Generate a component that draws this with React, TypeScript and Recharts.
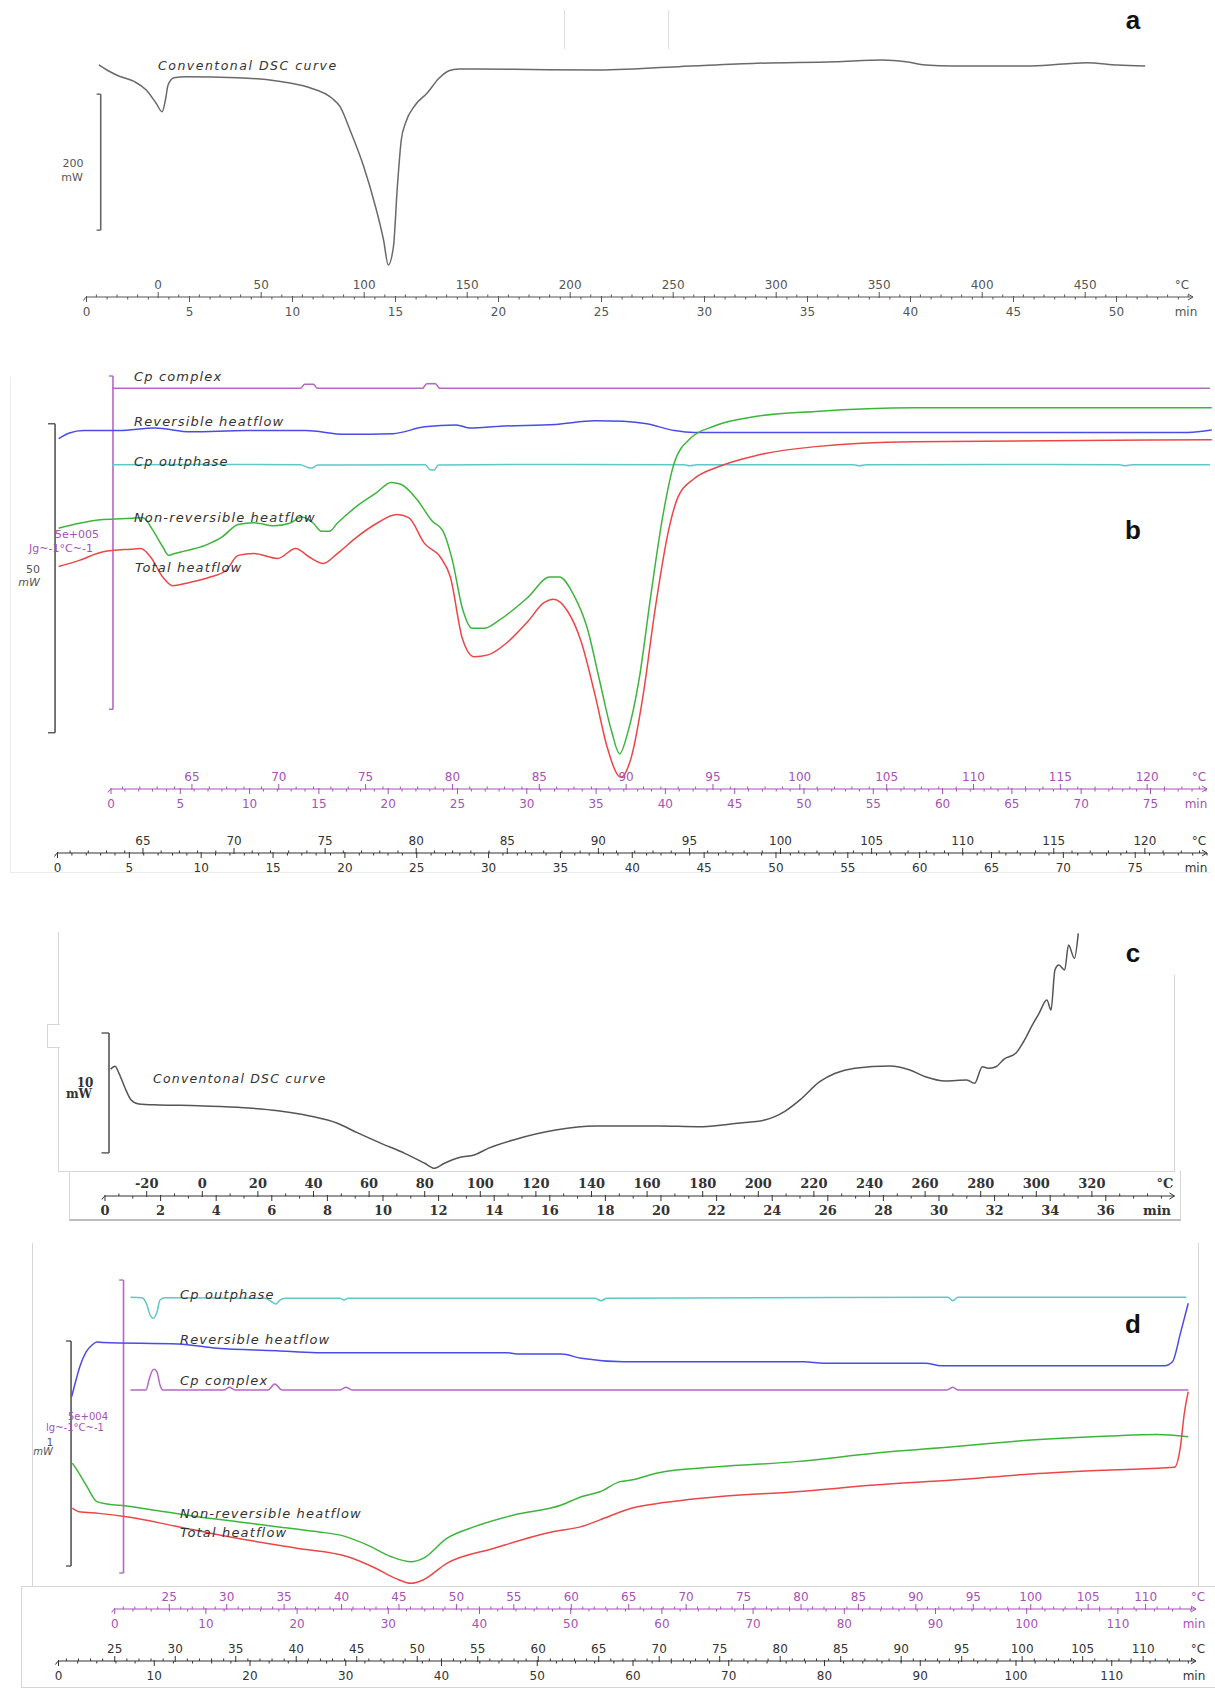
import React from "react";
import { LineChart, Line, XAxis, YAxis, ReferenceLine } from "recharts";

type Pt = { t: number; v: number };
const pts = (rows: number[][]): Pt[] => rows.map(([t, v]) => ({ t, v }));
const range = (a: number, b: number, s = 1) => {
  const out: number[] = [];
  for (let v = a; v <= b + 1e-9; v += s) out.push(+v.toFixed(3));
  return out;
};

const W = 1215;
const SANS = "'DejaVu Sans', Verdana, sans-serif";
const SERIF = "'DejaVu Serif', 'Liberation Serif', serif";
const PURPLE = "#b468c4";
const PURPLE_TXT = "#a552b5";
const BLUE = "#4b4be6";
const CYAN = "#5ec8c8";
const GREEN = "#3db53d";
const RED = "#ec4646";

// ---------- a: conventional DSC (t in min, v in mW)
const A_MIN_LABELS = [0, 5, 10, 15, 20, 25, 30, 35, 40, 45, 50];
const A_C_LABELS = [0, 50, 100, 150, 200, 250, 300, 350, 400, 450];
const A_DSC = pts([
  [0.6, 5.9], [0.99, -1.5], [1.56, -10.3], [2.33, -18.7], [2.9, -30.9], [3.38, -50.4],
  [3.67, -62.8], [3.83, -45.6], [3.96, -23.5], [4.25, -12.8], [4.82, -11.3], [7.32, -12.8],
  [9.24, -17.6], [10.77, -26.9], [11.92, -43.1], [12.31, -55.4], [12.79, -89.7], [13.46, -143.7],
  [14.03, -202.5], [14.42, -251.5], [14.65, -288.2], [14.9, -261.3], [15.09, -173.1], [15.28, -104.4],
  [15.48, -79.9], [15.96, -52.9], [16.53, -35.7], [17.11, -13.7], [17.59, -2.5], [18.07, 0],
  [20.75, -0.4], [24.59, -1.5], [28.73, 3.4], [32.54, 8.4], [36.35, 10.7], [38.64, 13.2],
  [39.78, 10.7], [40.73, 5.9], [42.06, 4.4], [45.87, 4.4], [48.53, 9.3], [50.05, 5.9], [51.39, 4.4],
]);

// ---------- b: MTDSC, heat flows in mW, Cp in 1e5 J g-1 °C-1
const B_MIN_LABELS = [0, 5, 10, 15, 20, 25, 30, 35, 40, 45, 50, 55, 60, 65, 70, 75];
const B_C_LABELS = [65, 70, 75, 80, 85, 90, 95, 100, 105, 110, 115, 120];
const B_CP_COMPLEX = pts([
  [3.8, 5.98], [16.9, 5.98], [17.2, 6.04], [17.8, 6.04], [18.1, 5.98], [25.4, 5.98],
  [25.7, 6.05], [26.3, 6.05], [26.6, 5.98], [80.2, 5.98],
]);
const B_CP_OUT = pts([
  [3.8, 4.84], [10, 4.845], [16.9, 4.84], [17.4, 4.8], [17.7, 4.79], [18.1, 4.835], [25.6, 4.84],
  [25.9, 4.77], [26.2, 4.76], [26.5, 4.835], [35, 4.845], [43.6, 4.84], [44, 4.825], [44.5, 4.84],
  [55.4, 4.84], [55.8, 4.825], [56.3, 4.84], [66, 4.845], [73.9, 4.84], [74.3, 4.825], [74.8, 4.84], [80.2, 4.84],
]);
const B_REV = pts([
  [0.08, 56.7], [0.83, 57.6], [1.8, 58.0], [4.28, 58.0], [6.77, 58.4], [9.26, 57.8], [13.12, 58.0],
  [17.27, 58.0], [20.0, 57.4], [23.34, 57.5], [25.55, 58.6], [27.75, 58.9], [28.72, 58.4], [30.8, 58.7],
  [34.66, 59.0], [37.42, 59.6], [39.39, 59.5], [41.02, 59.1], [42.94, 58.0], [44.29, 57.7], [59.58, 57.7],
  [78.67, 57.7], [80.33, 58.1],
]);
const B_NONREV = pts([
  [0.08, 42.2], [1.52, 43.0], [3.18, 43.6], [5.11, 43.8], [5.94, 43.9], [6.63, 41.9], [7.32, 39.2],
  [7.74, 37.8], [8.15, 38.1], [10.36, 39.5], [11.46, 40.8], [12.57, 42.8], [13.67, 43.1], [15.05, 42.6],
  [16.16, 43.0], [16.99, 44.0], [17.81, 43.0], [18.36, 41.7], [18.92, 41.7], [19.47, 43.0], [20.85, 45.8],
  [22.23, 48.0], [23.2, 49.6], [23.89, 49.3], [25.0, 46.9], [26.1, 43.3], [26.79, 41.9], [27.48, 37.0],
  [28.17, 29.3], [28.86, 26.0], [29.69, 26.0], [30.79, 27.4], [32.73, 31.0], [34.24, 34.3], [34.93, 34.3],
  [35.9, 31.5], [36.87, 26.0], [37.7, 17.8], [38.53, 9.6], [39.12, 5.7], [39.67, 9.0], [40.48, 17.8],
  [41.3, 31.5], [42.12, 44.1], [42.94, 52.9], [44.03, 56.7], [45.67, 58.7], [48.67, 60.3], [52.76, 61.1],
  [59.58, 61.7], [80.33, 61.7],
]);
const B_TOTAL = pts([
  [0.08, 36.0], [1.52, 37.0], [3.18, 38.4], [5.11, 38.8], [5.8, 38.9], [6.49, 37.5], [7.32, 34.3],
  [8.01, 32.9], [8.98, 33.3], [10.63, 34.3], [11.74, 35.4], [12.57, 37.8], [13.67, 38.1], [15.33, 37.3],
  [16.57, 38.9], [17.54, 37.5], [18.5, 36.5], [19.47, 38.1], [20.85, 40.8], [22.23, 43.0], [23.61, 44.4],
  [24.44, 43.9], [25.55, 39.7], [26.65, 37.5], [27.34, 34.3], [28.17, 24.4], [29.0, 21.4], [29.96, 21.7],
  [31.34, 23.8], [32.73, 27.1], [33.83, 30.1], [34.52, 30.7], [35.49, 28.8], [36.45, 23.8], [37.42, 15.1],
  [38.25, 6.8], [39.2, 1.9], [39.94, 5.2], [40.75, 15.1], [41.57, 28.8], [42.53, 41.9], [43.21, 47.4],
  [44.3, 50.2], [45.94, 52.1], [48.67, 54.0], [52.76, 55.4], [59.58, 56.2], [80.33, 56.5],
]);

// ---------- c: conventional DSC (t in min, v in mW)
const C_MIN_LABELS = range(0, 36, 2);
const C_C_LABELS = range(-20, 320, 20);
const C_DSC = pts([
  [0.2, 8.6], [0.36, 8.85], [0.5, 8.28], [0.72, 7.03], [0.94, 6.03], [1.22, 5.69], [1.93, 5.61],
  [3.36, 5.55], [4.78, 5.41], [6.22, 5.13], [7.36, 4.69], [8.36, 4.08], [9.07, 3.29], [9.93, 2.4],
  [10.78, 1.56], [11.5, 0.73], [11.85, 0.31], [12.21, 0.73], [12.78, 1.23], [13.28, 1.42], [13.78, 1.98],
  [14.78, 2.74], [16.21, 3.51], [17.63, 3.85], [19.92, 3.85], [21.33, 3.79], [22.74, 4.08], [23.73, 4.35],
  [24.44, 5.05], [25.0, 6.03], [25.71, 7.56], [26.27, 8.26], [26.97, 8.68], [28.24, 8.87], [28.95, 8.54],
  [29.51, 7.97], [30.22, 7.62], [31.0, 7.7], [31.28, 7.42], [31.56, 8.81], [31.77, 8.68], [32.05, 8.81],
  [32.33, 9.43], [32.76, 9.93], [33.04, 10.9], [33.39, 12.44], [33.6, 13.28], [33.88, 14.39], [34.03, 13.56],
  [34.17, 16.9], [34.31, 17.32], [34.52, 16.9], [34.66, 19.0], [34.87, 17.88], [35.01, 19.97],
]);

// ---------- d: MTDSC, heat flows in mW, Cp in 1e4 J g-1 °C-1
const D_MIN_LABELS = range(0, 110, 10);
const D_C_LABELS = range(25, 110, 5);
const D_CP_OUT = pts([
  [7.52, 5.319], [8.72, 5.312], [9.24, 5.188], [9.56, 5.017], [9.9, 4.961], [10.29, 5.068], [10.6, 5.273],
  [11.12, 5.312], [21.57, 5.302], [22.3, 5.239], [22.72, 5.205], [23.13, 5.273], [23.66, 5.302], [29.4, 5.302],
  [29.82, 5.273], [30.23, 5.302], [56.03, 5.302], [56.66, 5.261], [57.28, 5.302], [92.9, 5.319], [93.41, 5.261],
  [93.94, 5.319], [117.79, 5.319],
]);
const D_CP_COMPLEX = pts([
  [7.52, 3.737], [9.14, 3.737], [9.45, 3.908], [9.77, 4.061], [9.99, 4.09], [10.29, 4.044], [10.6, 3.823],
  [10.91, 3.737], [17.28, 3.737], [17.84, 3.783], [18.43, 3.737], [21.88, 3.737], [22.59, 3.84], [23.34, 3.737],
  [29.4, 3.737], [30.03, 3.783], [30.65, 3.737], [92.79, 3.737], [93.41, 3.783], [93.94, 3.737], [117.99, 3.737],
]);
const D_REV = pts([
  [1.38, 0.944], [1.83, 1.018], [2.25, 1.08], [2.87, 1.142], [3.5, 1.173], [4.02, 1.187], [4.65, 1.184],
  [12.48, 1.178], [16.61, 1.159], [22.8, 1.148], [26.92, 1.139], [46.75, 1.139], [48.2, 1.133], [52.53, 1.133],
  [54.6, 1.114], [59.01, 1.099], [77.85, 1.099], [79.9, 1.092], [90.55, 1.092], [92.19, 1.081], [115.53, 1.081],
  [116.34, 1.099], [117.17, 1.225], [117.99, 1.359],
]);
const D_NONREV = pts([
  [1.45, 0.648], [2.15, 0.603], [2.98, 0.544], [4.01, 0.477], [5.04, 0.467], [7.1, 0.458], [10.41, 0.437],
  [14.54, 0.41], [18.67, 0.388], [22.8, 0.366], [26.92, 0.344], [29.82, 0.324], [32.29, 0.284], [34.78, 0.232],
  [36.84, 0.21], [38.08, 0.225], [40.55, 0.314], [43.45, 0.366], [47.57, 0.418], [52.53, 0.462], [54.6, 0.499],
  [56.55, 0.521], [58.64, 0.566], [59.83, 0.573], [62.69, 0.606], [68.84, 0.632], [77.03, 0.655], [85.22, 0.692],
  [93.41, 0.721], [101.61, 0.751], [109.8, 0.769], [114.72, 0.776], [117.99, 0.766],
]);
const D_TOTAL = pts([
  [1.45, 0.448], [2.15, 0.432], [4.22, 0.425], [7.1, 0.41], [12.48, 0.366], [18.67, 0.314], [24.87, 0.27],
  [30.23, 0.232], [33.12, 0.181], [35.19, 0.136], [36.84, 0.114], [38.08, 0.129], [40.55, 0.203], [45.51, 0.27],
  [51.71, 0.344], [54.6, 0.366], [56.55, 0.396], [59.83, 0.448], [62.69, 0.47], [68.84, 0.499], [77.03, 0.521],
  [85.22, 0.551], [93.41, 0.573], [101.61, 0.6], [109.8, 0.618], [116.55, 0.63], [117.17, 0.721], [117.58, 0.87],
  [117.99, 0.966],
]);

// ---------- axis marks: every scale is placed on the panel's time axis
type Style = { color: string; font: string; size: number; weight?: any };
type Mark = { t: number; val: number; major: boolean; up: boolean; dy: number; st: Style; line?: number; end?: string; endX?: number };

function group(vals: number[], toT: (v: number) => number, labels: number[], up: boolean, dy: number, st: Style,
  line?: number, end?: string, endX?: number): Mark[] {
  return vals.map((v, i) => ({
    t: toT(v), val: v, major: labels.includes(v), up, dy, st,
    line: i === 0 ? line : undefined, end: i === 0 ? end : undefined, endX,
  }));
}

function axisFrom(marks: Mark[]) {
  const map = new Map<string, Mark>();
  marks.forEach((m) => map.set(m.t.toFixed(5), m));
  const ticks = Array.from(map.values()).map((m) => +m.t.toFixed(5)).sort((a, b) => a - b);
  const tick = (p: any) => {
    const m = map.get((+p.payload.value).toFixed(5));
    if (!m) return <g />;
    const x = p.x;
    const y = p.y + m.dy;
    const L = m.major ? 5 : 2.5;
    const ty = m.up ? y - 8 : y + 19;
    const txt = { fill: m.st.color, fontFamily: m.st.font, fontSize: m.st.size, fontWeight: m.st.weight };
    return (
      <g>
        {m.line ? (
          <path
            d={`M${x - 3},${y + 3.5} Q${x - 1},${y} ${x},${y} H${x + m.line} M${x + m.line - 5},${y - 3} L${x + m.line},${y} L${x + m.line - 5},${y + 3}`}
            stroke={m.st.color} strokeWidth={1} fill="none"
          />
        ) : null}
        <line x1={x} x2={x} y1={m.up ? y - L : y - (m.major ? 1 : 0)} y2={m.up ? y + (m.major ? 1 : 0) : y + L} stroke={m.st.color} strokeWidth={1} />
        {m.major ? <text x={x} y={ty} textAnchor="middle" {...txt}>{m.val}</text> : null}
        {m.end ? <text x={m.endX} y={ty} textAnchor="middle" {...txt}>{m.end}</text> : null}
      </g>
    );
  };
  return { ticks, tick };
}

const bare = { tickLine: false, axisLine: false, tickSize: 0, tickMargin: 0, allowDataOverflow: true, interval: 0 as const, type: "number" as const };

const scaleBar = (key: string, xId: string, yId: string, t: number, y1: number, y2: number, serif: number, color: string) => [
  <ReferenceLine key={key + "v"} xAxisId={xId} yAxisId={yId} segment={[{ x: t, y: y1 }, { x: t, y: y2 }]} stroke={color} strokeWidth={1.6} ifOverflow="visible" />,
  <ReferenceLine key={key + "a"} xAxisId={xId} yAxisId={yId} segment={[{ x: t - serif, y: y1 }, { x: t, y: y1 }]} stroke={color} strokeWidth={1.4} ifOverflow="visible" />,
  <ReferenceLine key={key + "b"} xAxisId={xId} yAxisId={yId} segment={[{ x: t - serif, y: y2 }, { x: t, y: y2 }]} stroke={color} strokeWidth={1.4} ifOverflow="visible" />,
];

function Txt({ x, y, mid, children, s }: { x: number; y: number; mid?: boolean; children: any; s?: React.CSSProperties }) {
  return (
    <div style={{ position: "absolute", left: x, top: y, transform: mid ? "translate(-50%,-50%)" : "translate(0,-50%)", whiteSpace: "nowrap", lineHeight: 1, ...s }}>
      {children}
    </div>
  );
}

function Box({ l, t, w, h, b }: { l: number; t: number; w: number; h: number; b: React.CSSProperties }) {
  return <div style={{ position: "absolute", left: l, top: t, width: w, height: h, boxSizing: "border-box", ...b }} />;
}

const ital: React.CSSProperties = { fontFamily: SANS, fontStyle: "italic", fontSize: 12.5, letterSpacing: 1.2, color: "#333" };
const italMt: React.CSSProperties = { ...ital, fontSize: 13, letterSpacing: 1.15 };
const panelLetter: React.CSSProperties = { fontFamily: "'Liberation Sans', Arial, sans-serif", fontWeight: 700, fontSize: 26, color: "#111" };
const line = (c: string) => ({ type: "monotone" as const, dot: false, stroke: c, strokeWidth: 1.5, isAnimationActive: false, dataKey: "v" });
const FR = "1.5px solid #d6d6d6";

function PanelA() {
  const st = { color: "#555", font: SANS, size: 12 };
  const ax = axisFrom([
    ...group(range(-30, 500, 10), (T) => 3.48 + T / 10, A_C_LABELS, true, 0, st, undefined, "°C", 1182),
    ...group(range(0, 53), (t) => t, A_MIN_LABELS, false, 0, st, 1106.5, "min", 1186),
  ]);
  return (
    <div style={{ position: "absolute", left: 0, top: 0 }}>
      <LineChart width={W} height={328} margin={{ top: 8, right: 15, bottom: 2, left: 60 }}>
        <XAxis xAxisId="t" {...bare} dataKey="t" height={29} domain={[-1.2864, 54.053]} ticks={ax.ticks} tick={ax.tick} />
        <YAxis yAxisId="v" hide type="number" domain={[-335.3, 89.7]} allowDataOverflow />
        {scaleBar("sa", "t", "v", 0.69, -37, -237, 0.2, "#666")}
        <ReferenceLine xAxisId="t" yAxisId="v" segment={[{ x: 23.21, y: 86.8 }, { x: 23.21, y: 29.4 }]} stroke="#dcdcdc" ifOverflow="visible" />
        <ReferenceLine xAxisId="t" yAxisId="v" segment={[{ x: 28.26, y: 86.8 }, { x: 28.26, y: 29.4 }]} stroke="#dcdcdc" ifOverflow="visible" />
        <Line xAxisId="t" yAxisId="v" data={A_DSC} {...line("#6a6a6a")} />
      </LineChart>
    </div>
  );
}

function PanelB() {
  const ps = { color: PURPLE_TXT, font: SANS, size: 12 };
  const bs = { color: "#333", font: SANS, size: 12 };
  // purple scale: x = 111 + 13.86 tp ; black scale: x = 57.5 + 14.37 t
  const pT = (tp: number) => (111 + 13.86 * tp - 57.5) / 14.37;
  const ax = axisFrom([
    ...group(range(61, 123), (T) => pT((T - 60.34) / 0.798), B_C_LABELS, true, 0, ps, undefined, "°C", 1199),
    ...group(range(0, 79), pT, B_MIN_LABELS, false, 0, ps, 1096, "min", 1196),
    ...group(range(61, 123), (T) => (T - 60.31) / 0.7888, B_C_LABELS, true, 64, bs, undefined, "°C", 1199),
    ...group(range(0, 80), (t) => t, B_MIN_LABELS, false, 64, bs, 1149.5, "min", 1196),
  ]);
  return (
    <div style={{ position: "absolute", left: 0, top: 360 }}>
      <LineChart width={W} height={524} margin={{ top: 0, right: 3, bottom: 2, left: 15 }}>
        <XAxis xAxisId="t" {...bare} dataKey="t" height={93} domain={[-2.958, 80.344]} ticks={ax.ticks} tick={ax.tick} />
        <YAxis yAxisId="mw" hide type="number" domain={[0, 69.417]} allowDataOverflow />
        <YAxis yAxisId="cp" hide type="number" domain={[0, 6.403]} allowDataOverflow />
        {scaleBar("sb", "t", "mw", -0.17, 59.1, 9.1, 0.49, "#555")}
        {scaleBar("pb", "t", "cp", 3.86, 6.164, 1.19, 0.28, PURPLE)}
        <Line xAxisId="t" yAxisId="cp" data={B_CP_COMPLEX} {...line(PURPLE)} />
        <Line xAxisId="t" yAxisId="mw" data={B_REV} {...line(BLUE)} />
        <Line xAxisId="t" yAxisId="cp" data={B_CP_OUT} {...line(CYAN)} />
        <Line xAxisId="t" yAxisId="mw" data={B_NONREV} {...line(GREEN)} />
        <Line xAxisId="t" yAxisId="mw" data={B_TOTAL} {...line(RED)} />
      </LineChart>
    </div>
  );
}

function PanelC() {
  const st = { color: "#333", font: SERIF, size: 13, weight: 700 };
  const ax = axisFrom([
    ...group(range(-30, 340, 10), (T) => (T + 35) / 10, C_C_LABELS, true, 0, st, undefined, "°C", 1165),
    ...group(range(0, 38), (t) => t, C_MIN_LABELS, false, 0, st, 1069.5, "min", 1157),
  ]);
  return (
    <div style={{ position: "absolute", left: 0, top: 900 }}>
      <LineChart width={W} height={323} margin={{ top: 15, right: 39, bottom: 2, left: 58 }}>
        <XAxis xAxisId="t" {...bare} dataKey="t" height={25} domain={[-1.6906, 38.5252]} ticks={ax.ticks} tick={ax.tick} />
        <YAxis yAxisId="v" hide type="number" domain={[-2.008, 21.506]} allowDataOverflow />
        {scaleBar("sc", "t", "v", 0.144, 11.63, 1.6, 0.27, "#555")}
        <Line xAxisId="t" yAxisId="v" data={C_DSC} {...line("#555")} />
      </LineChart>
    </div>
  );
}

function PanelD() {
  const ps = { color: PURPLE_TXT, font: SANS, size: 12 };
  const bs = { color: "#333", font: SANS, size: 12 };
  // purple scale: x = 114.7 + 9.12 tp ; black scale: x = 58.5 + 9.575 t
  const pT = (tp: number) => (114.7 + 9.12 * tp - 58.5) / 9.575;
  const ax = axisFrom([
    ...group(range(21, 114), (T) => pT((T - 20.25) / 0.794), D_C_LABELS, true, 0, ps, undefined, "°C", 1198),
    ...group(range(0, 118, 2), pT, D_MIN_LABELS, false, 0, ps, 1081.3, "min", 1194),
    ...group(range(21, 114), (T) => (T - 20.35) / 0.7914, D_C_LABELS, true, 52, bs, undefined, "°C", 1198),
    ...group(range(0, 118, 2), (t) => t, D_MIN_LABELS, false, 52, bs, 1137.5, "min", 1194),
  ]);
  return (
    <div style={{ position: "absolute", left: 0, top: 1235 }}>
      <LineChart width={W} height={455} margin={{ top: 5, right: 15, bottom: 2, left: 20 }}>
        <XAxis xAxisId="t" {...bare} dataKey="t" height={79} domain={[-4.0209, 119.2167]} ticks={ax.ticks} tick={ax.tick} />
        <YAxis yAxisId="mw" hide type="number" domain={[0, 1.64]} allowDataOverflow />
        <YAxis yAxisId="cp" hide type="number" domain={[0, 6.297]} allowDataOverflow />
        {scaleBar("sd", "t", "mw", 1.31, 1.191, 0.191, 0.52, "#555")}
        {scaleBar("pd", "t", "cp", 6.79, 5.614, 0.614, 0.45, PURPLE)}
        <Line xAxisId="t" yAxisId="cp" data={D_CP_OUT} {...line(CYAN)} />
        <Line xAxisId="t" yAxisId="mw" data={D_REV} {...line(BLUE)} />
        <Line xAxisId="t" yAxisId="cp" data={D_CP_COMPLEX} {...line(PURPLE)} />
        <Line xAxisId="t" yAxisId="mw" data={D_NONREV} {...line(GREEN)} />
        <Line xAxisId="t" yAxisId="mw" data={D_TOTAL} {...line(RED)} />
      </LineChart>
    </div>
  );
}

export default function App() {
  const small: React.CSSProperties = { fontFamily: SANS, fontSize: 11, color: "#555" };
  const psmall: React.CSSProperties = { fontFamily: SANS, fontSize: 11, color: PURPLE_TXT };
  return (
    <div style={{ position: "absolute", left: 0, top: 0, width: W, height: 1701, background: "#fff", overflow: "hidden" }}>
      {/* frames */}
      <Box l={10} t={377} w={2} h={496} b={{ borderLeft: "1.5px solid #ececec" }} />
      <Box l={10} t={872} w={1200} h={2} b={{ borderTop: "1.5px solid #ececec" }} />
      <Box l={58} t={932} w={1117} h={240} b={{ borderLeft: FR, borderBottom: FR }} />
      <Box l={47} t={1024} w={13} h={24} b={{ borderLeft: FR, borderTop: FR, borderBottom: FR, background: "#fff" }} />
      <Box l={1174} t={975} w={2} h={197} b={{ borderLeft: FR }} />
      <Box l={69} t={1171} w={1112} h={50} b={{ borderLeft: FR, borderRight: FR, borderBottom: "2px solid #bdbdbd" }} />
      <Box l={32} t={1243} w={1167} h={344} b={{ borderLeft: FR, borderRight: FR }} />
      <Box l={21} t={1586} w={1194} h={102} b={{ borderLeft: FR, borderTop: FR, borderBottom: FR }} />

      <PanelA />
      <PanelB />
      <PanelC />
      <PanelD />

      {/* panel a texts */}
      <Txt x={158} y={66} s={{ ...ital, letterSpacing: 1.5 }}>Conventonal DSC curve</Txt>
      <Txt x={73} y={163} mid s={small}>200</Txt>
      <Txt x={72} y={177} mid s={small}>mW</Txt>
      <Txt x={1133} y={20} mid s={panelLetter}>a</Txt>

      {/* panel b texts */}
      <Txt x={134} y={376} s={italMt}>Cp complex</Txt>
      <Txt x={134} y={421} s={italMt}>Reversible heatflow</Txt>
      <Txt x={134} y={461} s={italMt}>Cp outphase</Txt>
      <Txt x={134} y={517} s={italMt}>Non-reversible heatflow</Txt>
      <Txt x={135} y={567} s={italMt}>Total heatflow</Txt>
      <Txt x={77} y={534} mid s={psmall}>5e+005</Txt>
      <Txt x={61} y={548} mid s={psmall}>Jg~-1°C~-1</Txt>
      <Txt x={33} y={569} mid s={small}>50</Txt>
      <Txt x={29} y={582} mid s={{ ...small, fontStyle: "italic" }}>mW</Txt>
      <Txt x={1133} y={530} mid s={panelLetter}>b</Txt>

      {/* panel c texts */}
      <Txt x={153} y={1079} s={ital}>Conventonal DSC curve</Txt>
      <Txt x={85} y={1083} mid s={{ fontFamily: SERIF, fontWeight: 700, fontSize: 12, color: "#333" }}>10</Txt>
      <Txt x={79} y={1094} mid s={{ fontFamily: SERIF, fontWeight: 700, fontSize: 12, color: "#333" }}>mW</Txt>
      <Txt x={1133} y={953} mid s={panelLetter}>c</Txt>

      {/* panel d texts */}
      <Txt x={180} y={1294} s={italMt}>Cp outphase</Txt>
      <Txt x={180} y={1339} s={italMt}>Reversible heatflow</Txt>
      <Txt x={180} y={1380} s={italMt}>Cp complex</Txt>
      <Txt x={180} y={1513} s={italMt}>Non-reversible heatflow</Txt>
      <Txt x={180} y={1532} s={italMt}>Total heatflow</Txt>
      <Txt x={88} y={1417} mid s={{ ...psmall, fontSize: 10 }}>5e+004</Txt>
      <Txt x={75} y={1428} mid s={{ ...psmall, fontSize: 10 }}>lg~-1°C~-1</Txt>
      <Txt x={50} y={1443} mid s={{ ...small, fontSize: 10 }}>1</Txt>
      <Txt x={43} y={1452} mid s={{ ...small, fontSize: 10, fontStyle: "italic" }}>mW</Txt>
      <Txt x={1133} y={1324} mid s={panelLetter}>d</Txt>
    </div>
  );
}
